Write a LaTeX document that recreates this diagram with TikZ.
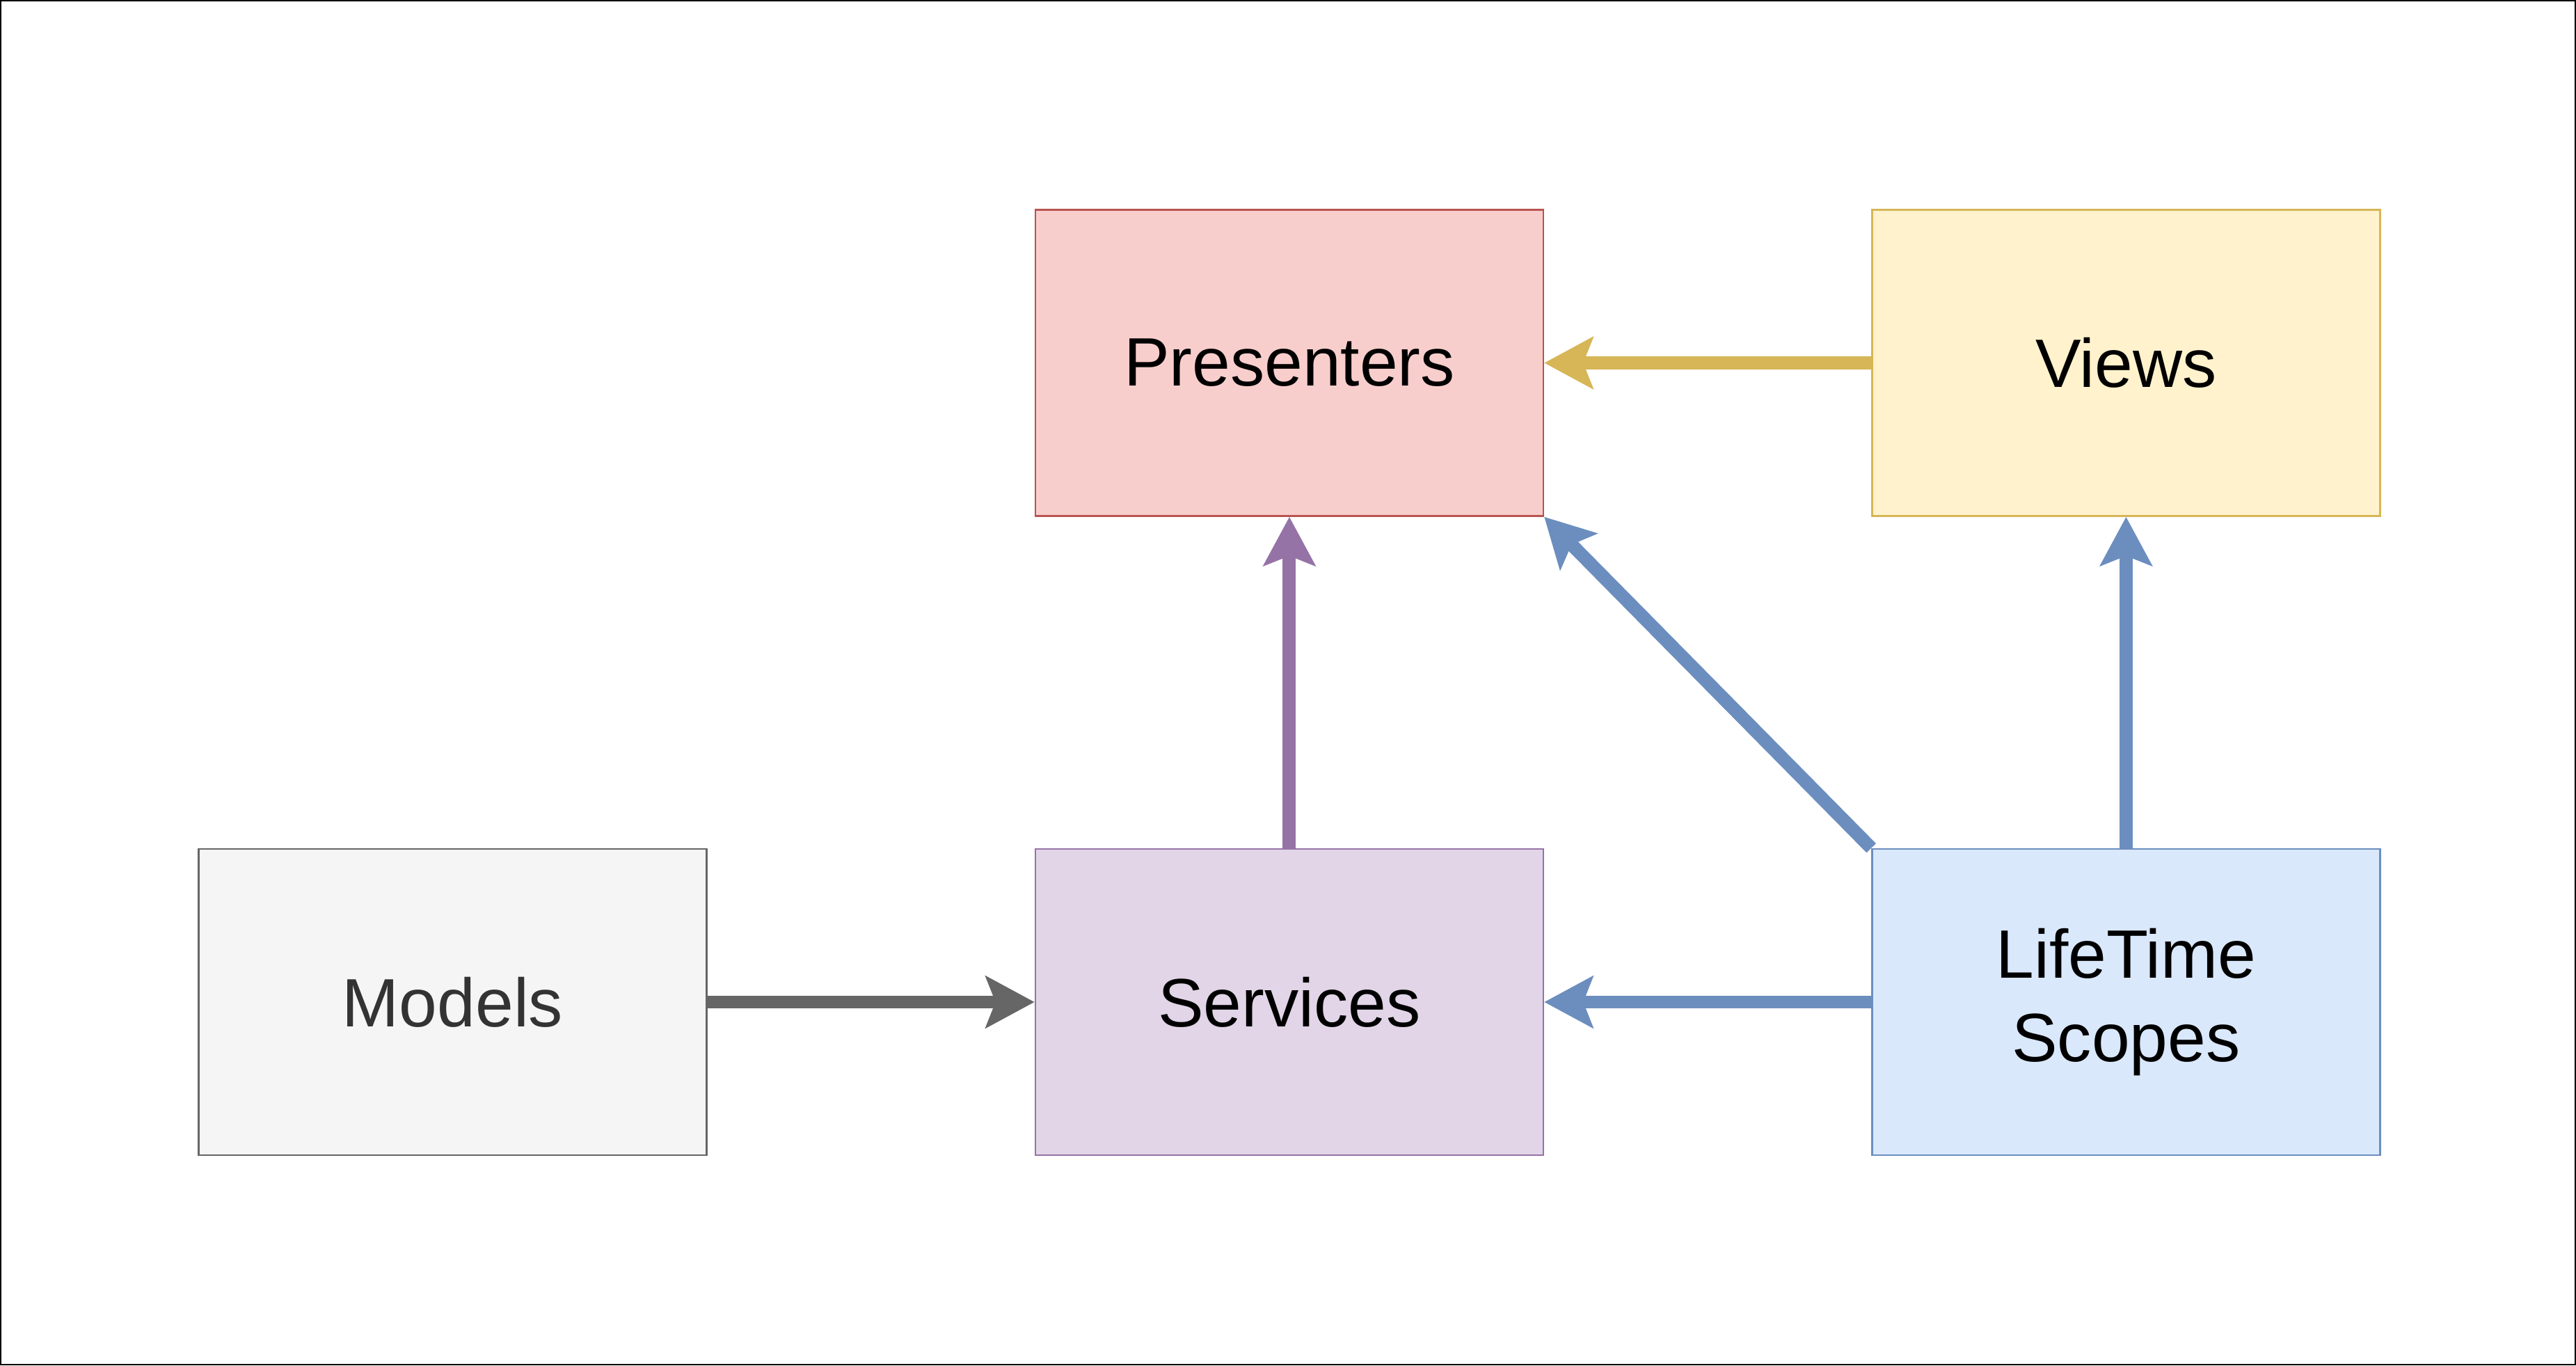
\documentclass[tikz,border=0pt]{standalone}
\usepackage{fontspec}
\setmainfont{Liberation Sans}
\usetikzlibrary{positioning}
\usetikzlibrary{arrows.meta}

\definecolor{presfill}{HTML}{F8CECC}
\definecolor{presline}{HTML}{B85450}
\definecolor{viewfill}{HTML}{FFF2CC}
\definecolor{viewline}{HTML}{D6B656}
\definecolor{modfill}{HTML}{F5F5F5}
\definecolor{modline}{HTML}{666666}
\definecolor{modtext}{HTML}{333333}
\definecolor{servfill}{HTML}{E1D5E7}
\definecolor{servline}{HTML}{9673A6}
\definecolor{scopefill}{HTML}{DAE8FC}
\definecolor{scopeline}{HTML}{6C8EBF}

\begin{document}
\begin{tikzpicture}[
			block/.style = {
				rectangle, draw, line width=0.7pt, inner sep=0pt,
				minimum width=7.3cm, minimum height=4.4cm, align=center,
				font=\fontsize{28}{34}\selectfont
			},
			link/.style = {
				line width=5.4pt, -{Stealth[length=7mm, width=7.4mm, inset=1.4mm]}
			},
			node distance = 4.76cm and 4.70cm]
			\useasboundingbox (0,0) rectangle (37.02,19.62);
			\draw [line width=0.6pt] (0.01,0.01) rectangle (37.01,19.61);
			\node (models) [block, draw = modline, fill = modfill, text = modtext] at (6.505,5.22) {Models};
			\node (services) [block, right = of models, draw = servline, fill = servfill] {Services};
			\node (scopes) [block, right = of services, draw = scopeline, fill = scopefill] {LifeTime\\Scopes};
			\node (presenters) [block, above = of services, draw = presline, fill = presfill] {Presenters};
			\node (views) [block, above = of scopes, draw = viewline, fill = viewfill] {Views};
			\path [link]
			(models) edge [draw = modline] (services)
			(services) edge [draw = servline] (presenters)
			(views) edge [draw = viewline] (presenters)
			(scopes) edge [draw = scopeline] (services)
			(scopes) edge [draw = scopeline] (views)
			(scopes.north west) edge [draw = scopeline] (presenters.south east);
		\end{tikzpicture}
\end{document}
